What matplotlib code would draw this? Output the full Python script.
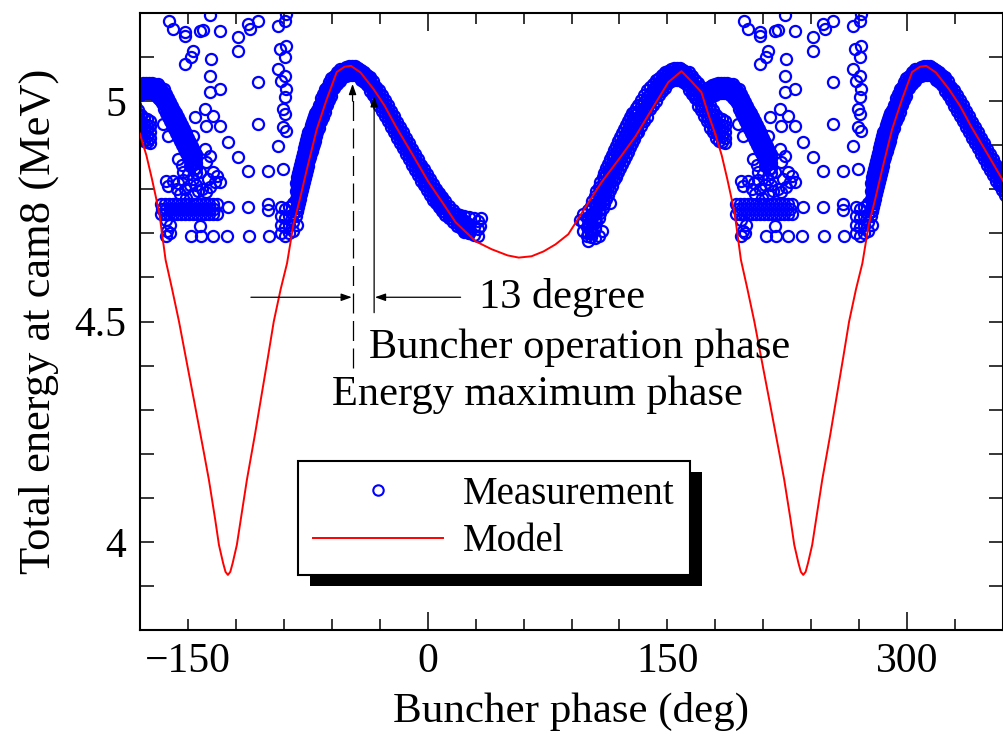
import matplotlib
matplotlib.use("Agg")
import matplotlib.pyplot as plt
import numpy as np
from matplotlib.lines import Line2D
from matplotlib.patches import Rectangle
from matplotlib.transforms import IdentityTransform

plt.rcParams['font.family'] = ['Liberation Serif', 'DejaVu Serif']

# ---- model curve over one period (deg, MeV); repeats every 360 deg ----
model_phase = [-180, -176, -172.5, -168, -164, -160, -155.6, -150, -146.3, -140,
               -136.9, -133, -130.6, -128, -126.5, -125, -123.5, -122, -119.4, -116,
               -113.1, -108, -104.4, -100, -96.3, -92, -88, -84, -80, -75.6,
               -69.4, -63.1, -56.9, -52, -48, -42, -33.8, -27, -20, -10,
               0.6, 10, 17.5, 30, 40, 50, 57, 65, 72.5, 80,
               88, 98, 108.8, 120, 130, 140, 150.6, 158.8, 165, 171.3,
               176, 180]
model_energy = [4.925, 4.877, 4.823, 4.748, 4.640, 4.575, 4.500, 4.393, 4.323, 4.202,
                4.141, 4.052, 3.993, 3.952, 3.932, 3.925, 3.932, 3.952, 3.993, 4.073,
                4.141, 4.245, 4.323, 4.418, 4.500, 4.573, 4.632, 4.720, 4.777, 4.845,
                4.936, 5.005, 5.066, 5.078, 5.080, 5.065, 5.027, 4.990, 4.943, 4.882,
                4.816, 4.766, 4.725, 4.682, 4.664, 4.650, 4.645, 4.648, 4.659, 4.675,
                4.698, 4.755, 4.816, 4.870, 4.920, 4.980, 5.043, 5.068, 5.045, 5.020,
                4.966, 4.925]

# ---- measurement bands: centre of the band and its half-spread (MeV) ----
peak_phase = [-82.5, -81.9, -81.3, -80.6, -80.0, -79.4, -78.8, -78.1, -77.5, -76.9,
              -76.3, -75.6, -75.0, -74.4, -73.8, -73.1, -72.5, -71.9, -71.3, -70.6,
              -70.0, -69.4, -68.1, -66.9, -65.6, -64.4, -63.1, -61.9, -60.6, -58.8,
              -56.9, -55.0, -53.1, -51.3, -49.4, -47.5, -45.6, -43.8, -41.9, -40.0,
              -38.1, -36.3, -34.4, -32.5, -30.6, -28.8, -26.9, -25.0, -23.1, -21.3,
              -19.4, -17.5, -15.6, -13.8, -11.9, -10.0, -8.1, -6.3, -4.4, -2.5,
              -0.6, 1.3, 3.1, 5.0, 6.9, 8.8, 10.6, 13.1, 15.6, 18.1,
              20.6, 23.1, 25.6]
peak_energy = [4.777, 4.789, 4.798, 4.807, 4.816, 4.827, 4.836, 4.845, 4.855, 4.864,
               4.873, 4.882, 4.891, 4.898, 4.905, 4.914, 4.920, 4.927, 4.934, 4.941,
               4.948, 4.955, 4.966, 4.980, 4.991, 5.002, 5.011, 5.023, 5.032, 5.043,
               5.052, 5.059, 5.064, 5.068, 5.070, 5.070, 5.070, 5.066, 5.059, 5.055,
               5.048, 5.039, 5.030, 5.018, 5.007, 4.995, 4.984, 4.973, 4.959, 4.948,
               4.934, 4.923, 4.911, 4.898, 4.886, 4.873, 4.861, 4.850, 4.836, 4.827,
               4.816, 4.805, 4.793, 4.784, 4.775, 4.766, 4.757, 4.748, 4.739, 4.730,
               4.723, 4.716, 4.711]
peak_spread = ([0.038] * 13 + [0.032] * 7 + [0.026] * 6 + [0.020] * 3 + [0.014] * 3
               + [0.010] * 6 + [0.012] * 3 + [0.015] * 3 + [0.018] * 19 + [0.016] * 4
               + [0.013] * 3 + [0.011] * 3)

rise_phase = [100.6, 101.9, 103.1, 104.4, 105.6, 106.9, 108.1, 109.4, 110.6, 111.9,
              113.1, 114.4, 115.6, 116.9, 118.1, 119.4, 120.6, 121.9, 123.1, 124.4,
              125.6, 126.9, 128.1, 129.4, 130.6, 131.9, 133.8, 135.6, 137.5, 139.4,
              141.3, 143.1, 145.0, 146.9, 148.8, 150.6, 152.5, 154.4, 156.3, 158.1,
              160.0, 161.9, 163.8, 165.6, 167.5, 169.4, 171.3, 173.1, 175.0, 176.9,
              178.8, 180.6, 182.5, 184.4, 186.3]
rise_energy = [4.718, 4.727, 4.739, 4.750, 4.761, 4.770, 4.782, 4.793, 4.802, 4.814,
               4.823, 4.834, 4.843, 4.855, 4.864, 4.875, 4.884, 4.893, 4.902, 4.911,
               4.920, 4.930, 4.939, 4.945, 4.955, 4.961, 4.973, 4.984, 4.995, 5.007,
               5.016, 5.025, 5.034, 5.041, 5.048, 5.055, 5.059, 5.061, 5.061, 5.061,
               5.057, 5.052, 5.045, 5.036, 5.027, 5.016, 5.005, 4.993, 4.980, 4.966,
               4.955, 4.943, 4.936, 4.934, 4.930]
rise_spread = ([0.035] * 23 + [0.030] * 6 + [0.024] * 3 + [0.019] * 3 + [0.014] * 7
               + [0.020] * 3 + [0.026] * 10)

hook_phase = [176.3, 178.1, 180.0, 181.9, 183.8, 185.6, 187.5, 189.4, 191.3, 192.5,
              193.8, 195.0, 196.3, 197.5, 198.8, 200.0, 201.3, 202.5, 203.8, 205.0,
              206.3, 207.5, 208.8, 210.0, 211.3, 212.5, 213.8, 215.0]
hook_energy = [5.020, 5.025, 5.027, 5.030, 5.030, 5.030, 5.030, 5.027, 5.023, 5.018,
               5.011, 5.005, 4.995, 4.986, 4.977, 4.968, 4.959, 4.950, 4.941, 4.932,
               4.923, 4.914, 4.905, 4.895, 4.886, 4.877, 4.868, 4.859]
hook_spread = [0.012] * 8 + [0.015] * 3 + [0.022] * 17

# ---- measurement: scattered readings and clusters ----
scatter_phase = [
    198.1, 200.6, 208.1, 208.1, 217.5, 219.4, 223.8, 230.0, 213.1, 211.9,
    208.1, 224.4, 223.8, 230.0, 223.8, 220.6, 225.6, 214.4, 221.3, 230.0,
    194.4, 197.5, 213.1, 235.0, 220.6, 241.3, 247.5, 260.0, 269.4, 253.8,
    266.3, 253.8, 241.3, 241.3, 247.5, 248.8, 253.8, 266.3,
    271.3, 270.6, 267.5, 271.3, 270.6, 266.3, 270.6, 268.1, 271.3, 270.6,
    269.4, 270.6, 269.4, 271.3,
    196.3, 200.6, 197.5, 203.8, 206.9, 211.3, 213.1, 217.5, 221.3, 222.5,
    225.6, 226.9, 230.0, 223.8, 216.3, 221.3, 208, 211, 205, 209, 213, 204,
    203, 207, 210, 215, 219, 224, 228, 206, 212,
    193, 195.5, 198, 200.5, 203, 205.5, 208, 210.5, 213, 215.5, 218, 220.5, 223, 225.5, 228,
    194, 196.5, 199, 201.5, 204, 206.5, 209, 211.5, 214, 216.5, 219, 221.5, 224, 226.5,
    193, 195.5, 198, 200.5, 203, 205.5, 208, 210.5, 213, 215.5, 218, 220.5, 223, 225.5, 228,
    235.0, 247.5, 260.0, 260.0,
    196, 211.9, 218.1, 225.6, 234.4, 248.1, 260.6, 217.5, 199, 197, 196, 198.5,
    -92, -92, -92, -92, -89.5, -89.5, -89.5, -89.5, -87, -87, -87, -87,
    -84.5, -84.5, -84.5, -84.5, -82, -82,
    17, 20, 23, 26, 29, 31.5, 20, 23, 26, 29, 31.5, 23, 26, 29, 31.5, 33, 33.5,
    97, 97, 97, 99.5, 99.5, 99.5, 102, 104.5, 104.5, 107, 95.5, 114.4, 109,
]
scatter_energy = [
    5.182, 5.164, 5.157, 5.148, 5.159, 5.161, 5.195, 5.159, 5.114, 5.100,
    5.084, 5.095, 5.057, 5.027, 5.020, 4.982, 4.966, 4.964, 4.943, 4.943,
    4.948, 4.920, 4.920, 4.907, 4.891, 4.873, 4.841, 4.841, 4.845, 4.948,
    4.898, 5.043, 5.145, 5.114, 5.175, 5.164, 5.182, 5.170,
    5.198, 5.182, 5.118, 5.125, 5.100, 5.073, 5.057, 5.045, 5.027, 5.009,
    4.982, 4.970, 4.941, 4.932,
    4.818, 4.818, 4.807, 4.868, 4.839, 4.852, 4.823, 4.839, 4.861, 4.823,
    4.839, 4.816, 4.816, 4.875, 4.795, 4.793, 4.800, 4.810, 4.790, 4.780, 4.790, 4.815,
    4.800, 4.820, 4.835, 4.810, 4.800, 4.805, 4.830, 4.855, 4.870,
    4.767, 4.767, 4.767, 4.767, 4.767, 4.767, 4.767, 4.767, 4.767, 4.767, 4.767, 4.767, 4.767, 4.767, 4.767,
    4.755, 4.755, 4.755, 4.755, 4.755, 4.755, 4.755, 4.755, 4.755, 4.755, 4.755, 4.755, 4.755, 4.755,
    4.743, 4.743, 4.743, 4.743, 4.743, 4.743, 4.743, 4.743, 4.743, 4.743, 4.743, 4.743, 4.743, 4.743, 4.743,
    4.759, 4.759, 4.766, 4.752,
    4.693, 4.693, 4.693, 4.693, 4.693, 4.693, 4.693, 4.716, 4.720, 4.706, 4.730, 4.700,
    4.700, 4.720, 4.740, 4.760, 4.695, 4.715, 4.735, 4.755, 4.700, 4.720, 4.740, 4.760,
    4.705, 4.725, 4.745, 4.770, 4.720, 4.750,
    4.745, 4.742, 4.740, 4.738, 4.735, 4.728, 4.722, 4.720, 4.720, 4.715, 4.710, 4.702, 4.700, 4.697, 4.695, 4.716, 4.735,
    4.745, 4.725, 4.705, 4.735, 4.715, 4.695, 4.700, 4.710, 4.690, 4.695, 4.730, 4.770, 4.705,
]


def band_rows(phase, energy, spread):
    # readings across a band: centre, the two edges and halfway to each edge
    p = np.asarray(phase, float)
    e = np.asarray(energy, float)
    s = np.asarray(spread, float)
    return (np.concatenate([p] * 5),
            np.concatenate([e, e + s, e - s, e + s / 2, e - s / 2]))


parts = [band_rows(peak_phase, peak_energy, peak_spread),
         band_rows(rise_phase, rise_energy, rise_spread),
         band_rows(hook_phase, hook_energy, hook_spread),
         (np.asarray(scatter_phase, float), np.asarray(scatter_energy, float))]
meas_phase = np.concatenate([p for p, _ in parts])
meas_energy = np.concatenate([e for _, e in parts])

fig = plt.figure(figsize=(10.04, 7.38), dpi=100)
ax = fig.add_axes([140 / 1004, 108 / 738, 863 / 1004, 617 / 738])

# phase is periodic, so the scan is shown one turn either side as well
for shift in (-360, 0, 360):
    ax.plot(meas_phase + shift, meas_energy, ls='none', marker='o', ms=8,
            mfc='none', mec='blue', mew=1.6, zorder=2)
    ax.plot(np.array(model_phase) + shift, model_energy, color='red', lw=1.4, zorder=3)

ax.set_xlim(-180, 360)
ax.set_ylim(3.8, 5.2)

ax.set_xticks([-150, 0, 150, 300])
ax.set_xticks(np.arange(-180, 361, 30), minor=True)
ax.set_yticks([4, 4.5, 5])
ax.set_yticklabels(['4', '4.5', '5'])
ax.set_yticks(np.arange(3.8, 5.25, 0.1), minor=True)
ax.tick_params(which='both', direction='in', top=True, right=True, width=1.1)
ax.tick_params(axis='x', which='both', length=8, labelsize=30, pad=9)
ax.tick_params(axis='y', which='both', length=10, labelsize=30, pad=10)
for i in (1, 3):
    t = ax.xaxis.get_major_ticks()[i]
    t.tick1line.set_markersize(13)
    t.tick2line.set_markersize(13)
for sp in ax.spines.values():
    sp.set_linewidth(1.5)

ax.set_xlabel('Buncher phase (deg)', fontsize=31, labelpad=8)
ax.set_ylabel('Total energy at cam8 (MeV)', fontsize=32, labelpad=11)

# energy-maximum and operating phase markers
arrow = dict(arrowstyle='-|>,head_length=0.45,head_width=0.16', color='black',
             lw=0.9, shrinkA=0, shrinkB=0, mutation_scale=14)
ax.plot([-47, -47], [4.395, 5.02], color='black', lw=0.9, dashes=(16, 6), zorder=4)
ax.annotate('', xy=(-47, 5.039), xytext=(-47, 5.0), arrowprops=arrow)
ax.annotate('', xy=(-33.5, 5.011), xytext=(-33.5, 4.52), arrowprops=arrow)
ax.annotate('', xy=(-47.5, 4.555), xytext=(-110.6, 4.555), arrowprops=arrow)
ax.annotate('', xy=(-33, 4.555), xytext=(20.6, 4.555), arrowprops=arrow)
ax.text(31.9, 4.53, '13 degree', fontsize=30.5, ha='left', va='baseline')
ax.text(-36.9, 4.418, 'Buncher operation phase', fontsize=30.5, ha='left', va='baseline')
ax.text(-60, 4.311, 'Energy maximum phase', fontsize=30.5, ha='left', va='baseline')

handles = [Line2D([], [], ls='none', marker='o', ms=7.5, mfc='none', mec='blue', mew=1.5),
           Line2D([], [], color='red', lw=1.4)]
leg = ax.legend(handles, ['Measurement', 'Model'], loc='upper left',
                bbox_to_anchor=(0.183, 0.274), borderaxespad=0, fontsize=28,
                fancybox=False, edgecolor='black', framealpha=1,
                handlelength=3.34, handletextpad=0.52, borderpad=0.39, labelspacing=0.26)
leg.get_frame().set_linewidth(1.5)

# solid drop shadow behind the legend box
fig.canvas.draw()
bb = leg.get_frame().get_window_extent()
shadow = Rectangle((bb.x0 + 12, bb.y0 - 11), bb.width, bb.height,
                   transform=IdentityTransform(), facecolor='black', edgecolor='none',
                   zorder=leg.get_zorder() - 0.5)
ax.add_artist(shadow)

fig.savefig('out.png', dpi=100)
